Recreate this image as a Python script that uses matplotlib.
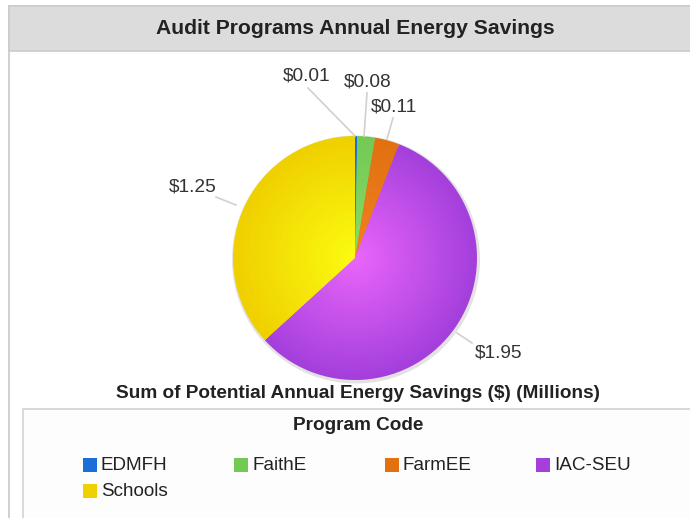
import matplotlib.pyplot as plt
import matplotlib.patches as mpatches
import numpy as np
from matplotlib.colors import to_rgb

plt.rcParams['font.family'] = ['Liberation Sans', 'DejaVu Sans']

# data
programs = ['EDMFH', 'FaithE', 'FarmEE', 'IAC-SEU', 'Schools']
savings = [0.01, 0.08, 0.11, 1.95, 1.25]
value_labels = ['$0.01', '$0.08', '$0.11', '$1.95', '$1.25']
title = 'Audit Programs Annual Energy Savings'
subtitle = 'Sum of Potential Annual Energy Savings ($) (Millions)'
legend_title = 'Program Code'

edge_colors = ['#1a6ed8', '#74c955', '#e07010', '#a43fdc', '#efd000']
center_colors = ['#2a80ee', '#88dd66', '#f08020', '#e865fa', '#fbfb10']

W, H = 690, 518
fig = plt.figure(figsize=(W / 100, H / 100), dpi=100)
ax = fig.add_axes([0, 0, 1, 1])


def Y(p):
    # pixel row (top-down) -> data y
    return H - p


# frame + header band
ax.add_patch(mpatches.Rectangle((9, Y(530)), 700, 524, fc='white', ec='#d0d0d0', lw=1.4))
ax.add_patch(mpatches.Rectangle((9, Y(51)), 700, 45, fc='#dcdcdc', ec='#cccccc', lw=1.2))
ax.text(355, Y(29), title, ha='center', va='center', fontsize=15.2, fontweight='bold', color='#222222')

# pie with radial shading
cx, cy, R = 355, Y(258), 122
ax.add_patch(mpatches.Circle((cx + 1, cy - 1.5), R + 2, fc='#e2e2e2', ec='none'))
n_layers = 40
for k in range(n_layers):
    t = k / (n_layers - 1)
    r = R * (1 - t * 0.97)
    cols = [tuple(np.array(to_rgb(e)) * (1 - t) + np.array(to_rgb(c)) * t)
            for e, c in zip(edge_colors, center_colors)]
    ax.pie(savings, colors=cols, startangle=90, counterclock=False,
           center=(cx, cy), radius=r, frame=True,
           wedgeprops=dict(linewidth=0))
ax.set_xlim(0, W)
ax.set_ylim(0, H)
ax.set_aspect('equal')
ax.axis('off')

# value labels with leader lines
label_pos = [(307, 76), (368, 82), (394, 107), (499, 353), (193, 187)]
line_from = [(308, 88), (367, 93), (393, 118), (457, 333), (216, 197)]
line_to = [(355, 136), (364, 136), (387, 139), (472, 343), (236, 205)]
for lab, (lx, ly), (x0, y0), (x1, y1) in zip(value_labels, label_pos, line_from, line_to):
    ax.plot([x0, x1], [Y(y0), Y(y1)], color='#d0d0d0', lw=1.2)
    ax.text(lx, Y(ly), lab, ha='center', va='center', fontsize=13.8, color='#333333')

ax.text(358, Y(394), subtitle, ha='center', va='center', fontsize=13.7, fontweight='bold', color='#222222')

# legend box
ax.add_patch(mpatches.Rectangle((23, Y(530)), 700, 121, fc='#fdfdfd', ec='#d2d2d2', lw=1.2))
ax.text(358, Y(425), legend_title, ha='center', va='center', fontsize=13.7, fontweight='bold', color='#222222')
for i, (name, col) in enumerate(zip(programs, edge_colors)):
    x = 83 + (i % 4) * 151
    y = 465 + (i // 4) * 26
    ax.add_patch(mpatches.Rectangle((x, Y(y + 7)), 14, 14, fc=col, ec='none'))
    ax.text(x + 18, Y(y), name, ha='left', va='center', fontsize=13.6, color='#222222')

fig.savefig('out.png', dpi=100)
